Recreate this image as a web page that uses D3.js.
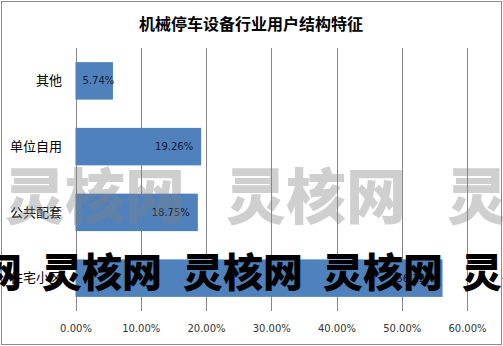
<!DOCTYPE html>
<html>
<head>
<meta charset="utf-8">
<script src="https://cdn.jsdelivr.net/npm/d3@7"></script>
<style>
  html, body { margin: 0; padding: 0; background: #fff; }
  svg { display: block; }
</style>
</head>
<body>
<svg id="chart" width="503" height="346"></svg>
<script>
  // chart data
  var categories = ['其他', '单位自用', '公共配套', '住宅小区'];
  var shares = [5.74, 19.26, 18.75, 56.25];
  var tickValues = [0, 10, 20, 30, 40, 50, 60];
  var title = '机械停车设备行业用户结构特征';
  var watermark = '灵核网';

  var width = 503, height = 346;
  var margin = {top: 48, right: 36, bottom: 35, left: 75.5};

  var svg = d3.select('#chart');

  // outer frame
  svg.append('rect')
    .attr('x', 1.5).attr('y', 1.5)
    .attr('width', width - 3).attr('height', height - 3)
    .attr('fill', '#fff')
    .attr('stroke', '#8c8c8c');

  var x = d3.scaleLinear()
    .domain([0, 60])
    .range([margin.left, width - margin.right]);

  var y = d3.scaleBand()
    .domain(categories)
    .range([margin.top, height - margin.bottom])
    .paddingInner(0.43)
    .paddingOuter(0.215);

  // vertical gridlines
  svg.append('g')
    .selectAll('line')
    .data(tickValues)
    .enter().append('line')
      .attr('x1', function(d) { return Math.round(x(d)) + 0.5; })
      .attr('x2', function(d) { return Math.round(x(d)) + 0.5; })
      .attr('y1', margin.top)
      .attr('y2', height - margin.bottom)
      .attr('stroke', '#868686');

  // bars
  svg.append('g')
    .selectAll('rect')
    .data(shares)
    .enter().append('rect')
      .attr('x', x(0))
      .attr('y', function(d, i) { return y(categories[i]); })
      .attr('width', function(d) { return x(d) - x(0); })
      .attr('height', y.bandwidth())
      .attr('fill', '#4f81bd');

  // value labels, inside end
  svg.append('g')
    .selectAll('text')
    .data(shares)
    .enter().append('text')
      .attr('x', function(d) { return (x(d) - x(0)) < 50 ? x(0) + 7 : x(d) - 8; })
      .attr('y', function(d, i) { return y(categories[i]) + y.bandwidth() / 2; })
      .attr('dy', '0.35em')
      .attr('text-anchor', function(d) { return (x(d) - x(0)) < 50 ? 'start' : 'end'; })
      .attr('font-family', 'DejaVu Sans')
      .attr('font-size', 10)
      .attr('fill', '#1a1a2e')
      .text(function(d) { return d.toFixed(2) + '%'; });

  // x axis labels
  var xAxis = d3.axisBottom(x)
    .tickValues(tickValues)
    .tickSize(0)
    .tickPadding(0)
    .tickFormat(function(d) { return d.toFixed(2) + '%'; });

  var gx = svg.append('g')
    .attr('transform', 'translate(0,' + 325 + ')')
    .call(xAxis);
  gx.select('.domain').remove();
  gx.selectAll('text')
    .attr('font-family', 'DejaVu Sans')
    .attr('font-size', 10)
    .attr('fill', '#333');

  // category labels
  var yAxis = d3.axisLeft(y).tickSize(0).tickPadding(0);
  var gy = svg.append('g')
    .attr('transform', 'translate(62,0)')
    .call(yAxis);
  gy.select('.domain').remove();
  gy.selectAll('text')
    .attr('font-family', 'Noto Sans CJK SC')
    .attr('font-size', 13)
    .attr('fill', '#000');

  // title
  svg.append('text')
    .attr('x', 251)
    .attr('y', 24)
    .attr('dy', '0.35em')
    .attr('text-anchor', 'middle')
    .attr('font-family', 'Noto Sans CJK SC')
    .attr('font-weight', 'bold')
    .attr('font-size', 16)
    .attr('fill', '#000')
    .text(title);

  // watermarks (gray translucent row and black row)
  var wm = svg.append('g').attr('font-family', 'Noto Sans CJK SC').attr('font-weight', 900);

  wm.selectAll('text.gray')
    .data([5, 226, 447])
    .enter().append('text')
      .attr('class', 'gray')
      .attr('x', function(d) { return d; })
      .attr('y', 198)
      .attr('dy', '0.35em')
      .attr('font-size', 60)
      .attr('fill', '#808080')
      .attr('fill-opacity', 0.38)
      .text(watermark);

  wm.selectAll('text.black')
    .data([-98, 42, 183, 323, 462])
    .enter().append('text')
      .attr('class', 'black')
      .attr('x', function(d) { return d; })
      .attr('y', 273)
      .attr('dy', '0.35em')
      .attr('font-size', 40)
      .attr('fill', '#000')
      .text(watermark);
</script>
</body>
</html>
